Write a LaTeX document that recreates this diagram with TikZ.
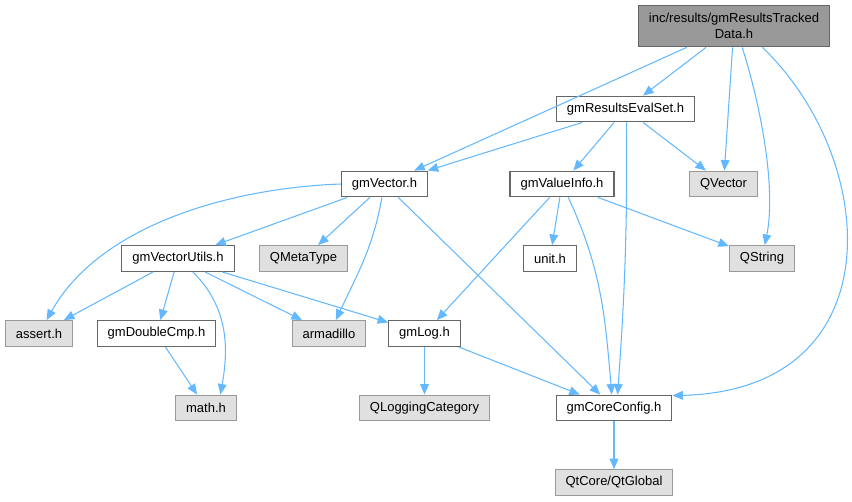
\documentclass[tikz,border=0pt]{standalone}
\usepackage{fontspec}
\setmainfont{Liberation Sans}
\usepackage{xcolor}
\usepackage{tikz}
\usetikzlibrary{arrows.meta}

\definecolor{edgeblue}{HTML}{63B8FF}
\definecolor{boxgray}{HTML}{666666}
\definecolor{extgray}{HTML}{999999}
\definecolor{extfill}{HTML}{E0E0E0}
\definecolor{rootfill}{HTML}{999999}

\tikzset{
	file/.style={draw=boxgray, fill=white, line width=0.6pt, inner xsep=6pt, inner ysep=0pt,
		minimum height=14.7pt, font=\fontsize{7.4}{9.5}\selectfont},
	extfile/.style={file, draw=extgray, fill=extfill},
	dep/.style={draw=edgeblue, line width=0.6pt, -{Triangle[length=6pt,width=5pt]}}
}

\begin{document}
\begin{tikzpicture}[x=0.02cm,y=-0.02cm]
		\useasboundingbox (0,0) rectangle (852,501);
		% files
		\node[file, fill=rootfill, align=center, minimum height=23.8pt] (root) at (734,26) {inc/results/gmResultsTracked\\Data.h};
		\node[file] (evalset) at (625.5,109) {gmResultsEvalSet.h};
		\node[file] (vec) at (384.5,184) {gmVector.h};
		\node[file] (valinfo) at (562,184) {gmValueInfo.h};
		\node[extfile] (qvector) at (723.5,184) {QVector};
		\node[file] (vecutils) at (178,258.5) {gmVectorUtils.h};
		\node[extfile] (qmeta) at (303.5,258.5) {QMetaType};
		\node[file] (unit) at (550,258.5) {unit.h};
		\node[extfile] (qstring) at (762,258.5) {QString};
		\node[extfile] (assert) at (39,333.5) {assert.h};
		\node[file] (dblcmp) at (156.5,333.5) {gmDoubleCmp.h};
		\node[extfile] (arma) at (329,333.5) {armadillo};
		\node[file] (log) at (424.5,333.5) {gmLog.h};
		\node[extfile] (math) at (206,408) {math.h};
		\node[extfile] (qlogcat) at (424.5,408) {QLoggingCategory};
		\node[file] (coreconf) at (614,408) {gmCoreConfig.h};
		\node[extfile] (qtglobal) at (614,482.5) {QtCore/QtGlobal};
		% includes
		\draw[dep] (root) -- (vec);
		\draw[dep] (root) -- (evalset);
		\draw[dep] (root) -- (qvector);
		\draw[dep] (root.-69) .. controls (762,110) and (776,190) .. (qstring);
		\draw[dep] (root.-37) .. controls (880,160) and (895,390) .. (coreconf.12);
		\draw[dep] (evalset) -- (vec);
		\draw[dep] (evalset) -- (valinfo);
		\draw[dep] (evalset) -- (qvector);
		\draw[dep] (evalset.-86) .. controls (628,250) and (622,330) .. (coreconf.75);
		\draw[dep] (vec.west) .. controls (230,188) and (100,225) .. (assert);
		\draw[dep] (vec) -- (vecutils);
		\draw[dep] (vec) -- (qmeta);
		\draw[dep] (vec.-101) to[out=-100,in=65] (arma.63);
		\draw[dep] (vec) -- (coreconf);
		\draw[dep] (valinfo) -- (log);
		\draw[dep] (valinfo) -- (unit);
		\draw[dep] (valinfo.-65) to[out=-65,in=95] (coreconf.99);
		\draw[dep] (valinfo) -- (qstring);
		\draw[dep] (vecutils) -- (assert);
		\draw[dep] (vecutils) -- (dblcmp);
		\draw[dep] (vecutils.-42) to[out=-45,in=80] (math.43);
		\draw[dep] (vecutils) -- (arma);
		\draw[dep] (vecutils) -- (log);
		\draw[dep] (dblcmp) -- (math);
		\draw[dep] (log) -- (qlogcat);
		\draw[dep] (log) -- (coreconf);
		\draw[dep] (coreconf) -- (qtglobal);
	\end{tikzpicture}
\end{document}
